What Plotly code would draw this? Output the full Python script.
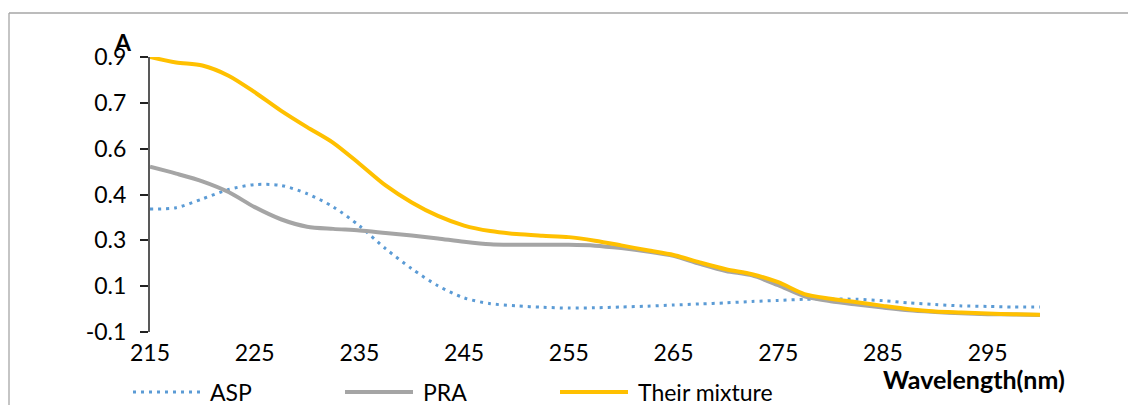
import plotly.graph_objects as go

# ---- data ----
wavelength = [215, 217.5, 220, 222.5, 225, 227.5, 230, 232.5, 235, 237.5, 240, 242.5,
              245, 247.5, 250, 252.5, 255, 257.5, 260, 262.5, 265, 267.5, 270, 272.5,
              275, 277.5, 280, 282.5, 285, 287.5, 290, 292.5, 295, 297.5, 300]

asp = [0.347, 0.352, 0.384, 0.418, 0.436, 0.433, 0.403, 0.355, 0.286, 0.203, 0.130, 0.068,
       0.024, 0.003, -0.005, -0.010, -0.013, -0.012, -0.009, -0.006, -0.002, 0.002, 0.006, 0.011,
       0.015, 0.019, 0.020, 0.019, 0.014, 0.006, 0.000, -0.005, -0.007, -0.009, -0.009]

pra = [0.501, 0.476, 0.448, 0.409, 0.354, 0.310, 0.283, 0.275, 0.269, 0.260, 0.251, 0.240,
       0.228, 0.219, 0.217, 0.217, 0.217, 0.214, 0.205, 0.193, 0.177, 0.148, 0.122, 0.106,
       0.070, 0.030, 0.012, 0.000, -0.011, -0.021, -0.027, -0.032, -0.035, -0.036, -0.038]

mixture = [0.900, 0.880, 0.869, 0.832, 0.772, 0.705, 0.645, 0.588, 0.512, 0.433, 0.371, 0.322,
           0.287, 0.267, 0.256, 0.250, 0.245, 0.232, 0.215, 0.197, 0.180, 0.153, 0.128, 0.110,
           0.081, 0.038, 0.021, 0.008, -0.005, -0.017, -0.025, -0.029, -0.033, -0.035, -0.037]

series_names = ["ASP", "PRA", "Their mixture"]
series_colors = ["#5B9BD5", "#A5A5A5", "#FFC000"]

x_ticks = [215, 225, 235, 245, 255, 265, 275, 285, 295]
y_tick_labels = ["-0.1", "0.1", "0.3", "0.4", "0.6", "0.7", "0.9"]
y_min, y_max = -0.1, 0.9
x_min, x_max = 215, 300

FONT = "Lato"
TICK_SIZE = 23
TEXT_SIZE = 23

# ---- figure ----
W, H = 1128, 405
L, R, T, B = 150, 88, 57, 73
pw, ph = W - L - R, H - T - B


def px_x(px):
    return (px - L) / pw


def px_y(py):
    return (H - B - py) / ph


y_tickvals = [y_min + k * (y_max - y_min) / (len(y_tick_labels) - 1) for k in range(len(y_tick_labels))]

fig = go.Figure()
fig.add_trace(go.Scatter(x=wavelength, y=asp, mode="lines", name=series_names[0],
                         line=dict(color=series_colors[0], width=3, dash="3px,5px", shape="spline", smoothing=0.8)))
fig.add_trace(go.Scatter(x=wavelength, y=pra, mode="lines", name=series_names[1],
                         line=dict(color=series_colors[1], width=4, shape="spline", smoothing=0.8)))
fig.add_trace(go.Scatter(x=wavelength, y=mixture, mode="lines", name=series_names[2],
                         line=dict(color=series_colors[2], width=4, shape="spline", smoothing=0.8)))

axis_pos = px_y(316.7)

fig.update_layout(
    width=W, height=H,
    margin=dict(l=L, r=R, t=T, b=B, pad=0),
    paper_bgcolor="white", plot_bgcolor="white",
    showlegend=False,
    font=dict(family=FONT, size=TEXT_SIZE, color="black"),
    xaxis=dict(range=[x_min, x_max], tickvals=x_ticks, ticks="", showline=False,
               showgrid=False, zeroline=False, ticklabelstandoff=5,
               tickfont=dict(family=FONT, size=TICK_SIZE, color="black")),
    xaxis2=dict(range=[x_min, x_max], matches="x", overlaying="x", anchor="free", position=axis_pos,
                tickvals=x_ticks, ticks="outside", ticklen=8, tickwidth=1.5, tickcolor="#999999",
                showline=True, linecolor="#A6A6A6", linewidth=1.5, showticklabels=False,
                showgrid=False, zeroline=False),
    xaxis3=dict(range=[x_min, x_max], matches="x", overlaying="x", anchor="free", position=axis_pos,
                tickvals=x_ticks, ticks="inside", ticklen=8, tickwidth=1.5, tickcolor="#999999",
                showline=False, showticklabels=False, showgrid=False, zeroline=False),
    yaxis=dict(range=[y_min, y_max], tickvals=y_tickvals, ticktext=y_tick_labels,
               ticks="outside", ticklen=8, tickwidth=1.5, tickcolor="#222222",
               showline=True, linecolor="#595959", linewidth=2, showgrid=False, zeroline=False,
               ticklabelstandoff=9, tickfont=dict(family=FONT, size=TICK_SIZE, color="black")),
    yaxis2=dict(range=[y_min, y_max], matches="y", overlaying="y", anchor="x", side="left",
                tickvals=y_tickvals, ticks="inside", ticklen=8, tickwidth=1.5, tickcolor="#222222",
                showline=False, showticklabels=False, showgrid=False, zeroline=False),
)

shapes = []
# outer chart frame (top and left edges)
shapes.append(dict(type="line", xref="paper", yref="paper", x0=px_x(9), x1=px_x(W), y0=px_y(13), y1=px_y(13),
                   line=dict(color="#A6A6A6", width=1.3)))
shapes.append(dict(type="line", xref="paper", yref="paper", x0=px_x(9), x1=px_x(9), y0=px_y(13), y1=px_y(H),
                   line=dict(color="#A6A6A6", width=1.3)))

# legend (manual, to reproduce long legend lines)
legend_line_x = [(133, 202), (345, 413), (560, 628)]
legend_text_x = [208, 421, 636]
legend_y = 392
annotations = []
for i in range(3):
    x0, x1 = legend_line_x[i]
    ln = dict(color=series_colors[i], width=3 if i == 0 else 4)
    if i == 0:
        ln["dash"] = "3px,5px"
    shapes.append(dict(type="line", xref="paper", yref="paper", x0=px_x(x0), x1=px_x(x1),
                       y0=px_y(legend_y), y1=px_y(legend_y), line=ln))
    annotations.append(dict(text=series_names[i], xref="paper", yref="paper", x=px_x(legend_text_x[i]),
                            y=px_y(legend_y), xanchor="left", yanchor="middle", showarrow=False,
                            font=dict(family=FONT, size=TEXT_SIZE, color="black")))

annotations.append(dict(text="<b>A</b>", xref="paper", yref="paper", x=px_x(123), y=px_y(42),
                        xanchor="center", yanchor="middle", showarrow=False,
                        font=dict(family=FONT, size=23, color="black")))
annotations.append(dict(text="<b>Wavelength(nm)</b>", xref="paper", yref="paper", x=px_x(881), y=px_y(379),
                        xanchor="left", yanchor="middle", showarrow=False,
                        font=dict(family=FONT, size=25, color="black")))

fig.update_layout(shapes=shapes, annotations=annotations)

# remove the default 8px page margin so the figure sits at the window's top-left corner
fig.write_html("out.html", config={"displayModeBar": False},
               post_script="document.body.style.margin='0';document.body.style.overflow='hidden';")
